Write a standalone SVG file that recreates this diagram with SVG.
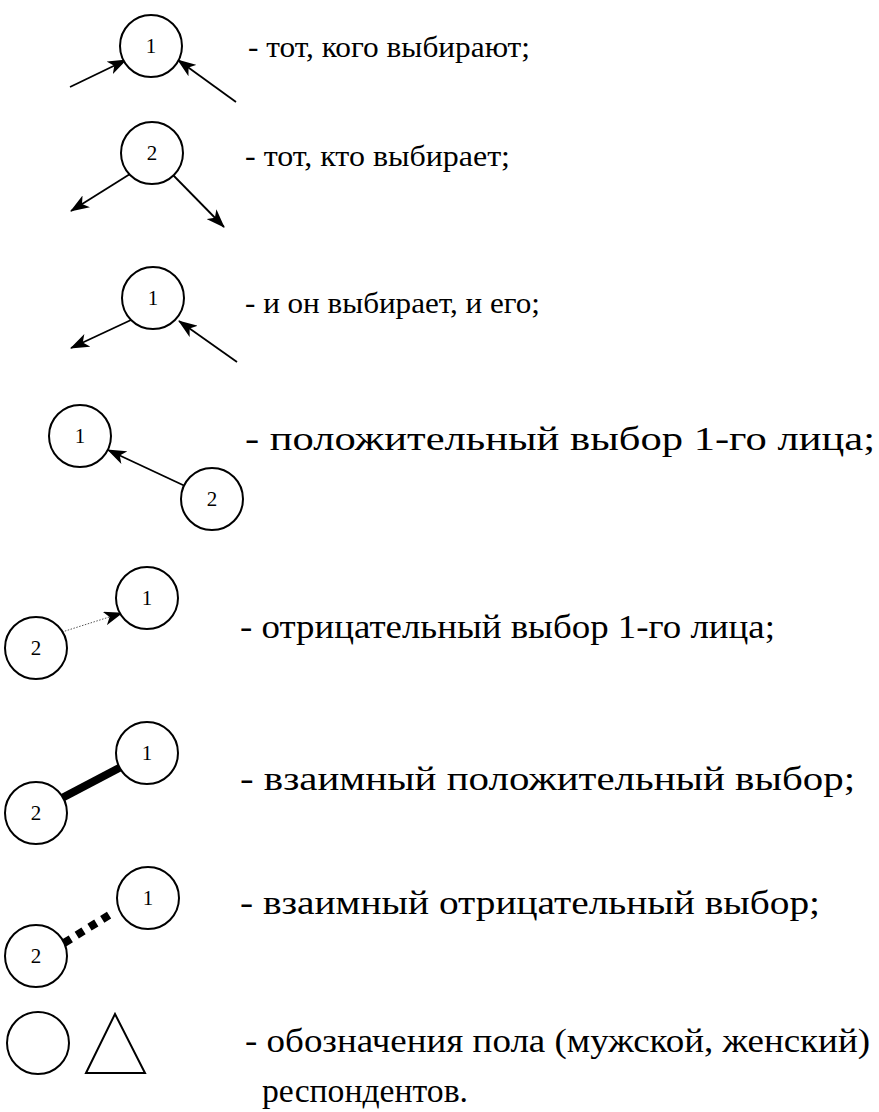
<svg xmlns="http://www.w3.org/2000/svg" width="879" height="1112" viewBox="0 0 879 1112">
<style>
.n{fill:#fff;stroke:#000;stroke-width:2}
.l{font-family:"Liberation Serif","DejaVu Serif",serif;font-size:21px;fill:#000;text-anchor:middle}
.t{font-family:"Liberation Serif","DejaVu Serif",serif;fill:#000}
.s{font-size:30px}
.b{font-size:34px}
.a{stroke:#000;stroke-width:1.8;fill:none}
</style>
<defs>
<marker id="ah" viewBox="0 0 19 14" refX="18" refY="7" markerWidth="19" markerHeight="14" markerUnits="userSpaceOnUse" orient="auto">
<path d="M0,0 L19,7 L0,14 L5,7 z" fill="#000"/>
</marker>
</defs>
<g id="connectors">
<line class="a" x1="70" y1="87" x2="126" y2="60" marker-end="url(#ah)"/>
<line class="a" x1="236" y1="102" x2="178" y2="60" marker-end="url(#ah)"/>
<line class="a" x1="130" y1="174" x2="71" y2="211" marker-end="url(#ah)"/>
<line class="a" x1="173" y1="175" x2="224" y2="227" marker-end="url(#ah)"/>
<line class="a" x1="131" y1="320" x2="71" y2="348" marker-end="url(#ah)"/>
<line class="a" x1="237" y1="362" x2="179" y2="321" marker-end="url(#ah)"/>
<line class="a" x1="185" y1="486" x2="108" y2="450" marker-end="url(#ah)"/>
<line x1="62" y1="632" x2="122" y2="613" stroke="#555" stroke-width="1" stroke-dasharray="1.5 1.5" marker-end="url(#ah)"/>
<line x1="62" y1="798" x2="121" y2="767" stroke="#000" stroke-width="8"/>
<line x1="64" y1="943" x2="114" y2="912" stroke="#000" stroke-width="8" stroke-dasharray="8 7"/>
</g>
<g id="row1"><circle class="n" cx="151" cy="46" r="31"/><text class="l" x="151" y="53">1</text></g>
<g id="row2"><circle class="n" cx="152" cy="153" r="31"/><text class="l" x="152" y="160">2</text></g>
<g id="row3"><circle class="n" cx="153" cy="298" r="31"/><text class="l" x="153" y="305">1</text></g>
<g id="row4a"><circle class="n" cx="80" cy="436" r="31"/><text class="l" x="80" y="443">1</text></g>
<g id="row4b"><circle class="n" cx="212" cy="499" r="31"/><text class="l" x="212" y="506">2</text></g>
<g id="row5a"><circle class="n" cx="147" cy="598" r="31"/><text class="l" x="147" y="605">1</text></g>
<g id="row5b"><circle class="n" cx="36" cy="648" r="31"/><text class="l" x="36" y="655">2</text></g>
<g id="row6a"><circle class="n" cx="147" cy="753" r="31"/><text class="l" x="147" y="760">1</text></g>
<g id="row6b"><circle class="n" cx="36" cy="813" r="31"/><text class="l" x="36" y="820">2</text></g>
<g id="row7a"><circle class="n" cx="148" cy="898" r="31"/><text class="l" x="148" y="905">1</text></g>
<g id="row7b"><circle class="n" cx="36" cy="956" r="31"/><text class="l" x="36" y="963">2</text></g>
<g id="gender">
<circle class="n" cx="38" cy="1043" r="31"/>
<polygon class="n" points="86,1073 115,1014 145,1073"/>
</g>
<g id="labels">
<text class="t s" x="248" y="57" textLength="282" lengthAdjust="spacingAndGlyphs">- тот, кого выбирают;</text>
<text class="t s" x="245" y="166" textLength="265" lengthAdjust="spacingAndGlyphs">- тот, кто выбирает;</text>
<text class="t s" x="245" y="313" textLength="295" lengthAdjust="spacingAndGlyphs">- и он выбирает, и его;</text>
<text class="t b" x="245" y="450" textLength="630" lengthAdjust="spacingAndGlyphs">- положительный выбор 1-го лица;</text>
<text class="t b" x="240" y="638" textLength="535" lengthAdjust="spacingAndGlyphs">- отрицательный выбор 1-го лица;</text>
<text class="t b" x="240" y="790" textLength="615" lengthAdjust="spacingAndGlyphs">- взаимный положительный выбор;</text>
<text class="t b" x="240" y="914" textLength="580" lengthAdjust="spacingAndGlyphs">- взаимный отрицательный выбор;</text>
<text class="t b" x="245" y="1052" textLength="625" lengthAdjust="spacingAndGlyphs">- обозначения пола (мужской, женский)</text>
<text class="t b" x="262" y="1102" textLength="206" lengthAdjust="spacingAndGlyphs">респондентов.</text>
</g>
</svg>
